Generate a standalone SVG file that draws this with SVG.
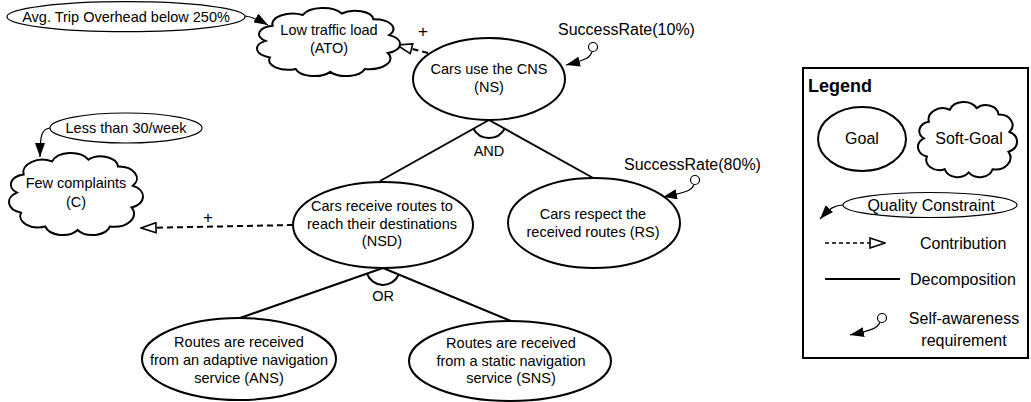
<svg xmlns="http://www.w3.org/2000/svg" xmlns:xlink="http://www.w3.org/1999/xlink" width="1031" height="402" viewBox="0 0 1031 402">
  <style>
    text { font-family: "Liberation Sans", Arial, sans-serif; fill: #000; }
    .t { font-size: 14.5px; text-anchor: middle; }
    .sr { font-size: 16px; }
    .lg { font-size: 16px; }
    .goal { fill: #fff; stroke: #000; stroke-width: 2; }
    .qc { fill: #fff; stroke: #000; stroke-width: 1.2; }
    .dec { fill: none; stroke: #000; stroke-width: 2; }
    .contrib { fill: none; stroke: #000; stroke-width: 2; stroke-dasharray: 6 4; marker-end: url(#ha); }
    .qlink { fill: none; stroke: #000; stroke-width: 1.2; marker-end: url(#fa); }
    .sa { fill: #fff; stroke: #000; stroke-width: 1.2; }
  </style>
  <defs>
    <marker id="fa" viewBox="0 0 14 10" refX="14" refY="5" markerWidth="14" markerHeight="10" markerUnits="userSpaceOnUse" orient="auto">
      <path d="M0,0 L14,5 L0,10 Z" fill="#000" stroke="none"/>
    </marker>
    <marker id="ha" viewBox="0 0 17 12" refX="16" refY="6" markerWidth="17" markerHeight="12" markerUnits="userSpaceOnUse" orient="auto">
      <path d="M1,1 L16,6 L1,11 Z" fill="#fff" stroke="#000" stroke-width="1.6" stroke-dasharray="none"/>
    </marker>
    <path id="cloud" d="M12,27 A14.2,14.2 0 0 1 33,12 A14.9,14.9 0 0 1 60,10 A12.9,12.9 0 0 1 82,18 A13.5,13.5 0 0 1 93,40 A13.75,13.75 0 0 1 92,65 A15,15 0 0 1 76,87 A13.4,13.4 0 0 1 52,91 A13.4,13.4 0 0 1 28,87 A13.3,13.3 0 0 1 10,71 A12.8,12.8 0 0 1 7,48 A11.9,11.9 0 0 1 12,27 Z" fill="#fff" stroke="#000" stroke-width="2" vector-effect="non-scaling-stroke"/>
  </defs>

  <!-- connectors -->
  <g id="connectors">
    <!-- decompositions -->
    <path class="dec" d="M489,120 L380,181 M489,120 L595,179"/>
    <path class="dec" d="M473.3,128.8 A18,18 0 0 0 504.7,128.8"/>
    <path class="dec" d="M383,268 L240,318 M383,268 L511,321"/>
    <path class="dec" d="M367,273.6 A17,17 0 0 0 398.7,274.5"/>
    <!-- contributions -->
    <path class="contrib" d="M428,53 L397,45"/>
    <path class="contrib" d="M293,225 L141,228"/>
    <!-- quality constraint links -->
    <path class="qlink" d="M245,16 Q254,17 268,25"/>
    <path class="qlink" d="M50,128 C42,129 40,134 40,157"/>
    <!-- self-awareness links -->
    <path class="qlink" d="M592,51.5 C590,58 586,60 566,65"/>
    <path class="qlink" d="M694,184.5 C692,190 688,192 663,197"/>
    <text x="423" y="37" style="font-size:17px" text-anchor="middle">+</text>
    <text x="208" y="223" style="font-size:17px" text-anchor="middle">+</text>
    <text class="t" x="489" y="156">AND</text>
    <text class="t" x="383" y="301">OR</text>
  </g>

  <g id="qc-ato">
    <ellipse class="qc" cx="126" cy="16.7" rx="119" ry="15"/>
    <text class="t" x="126" y="22">Avg. Trip Overhead below 250%</text>
  </g>

  <g id="ato">
    <use xlink:href="#cloud" transform="translate(255.4,6.3) scale(1.439,0.72)"/>
    <text class="t" x="329" y="35">Low traffic load</text>
    <text class="t" x="329" y="53">(ATO)</text>
  </g>

  <g id="ns">
    <ellipse class="goal" cx="489" cy="79" rx="76" ry="41"/>
    <text class="t" x="489" y="74">Cars use the CNS</text>
    <text class="t" x="489" y="92">(NS)</text>
  </g>

  <g id="sr-ns">
    <text class="sr" x="558" y="35">SuccessRate(10%)</text>
    <circle class="sa" cx="593" cy="47" r="4.5"/>
  </g>

  <g id="qc-c">
    <ellipse class="qc" cx="126" cy="128" rx="76" ry="15"/>
    <text class="t" x="126" y="133">Less than 30/week</text>
  </g>

  <g id="c">
    <use xlink:href="#cloud" transform="translate(7.5,151) scale(1.348,0.868)"/>
    <text class="t" x="76" y="188">Few complaints</text>
    <text class="t" x="76" y="206.5">(C)</text>
  </g>

  <g id="nsd">
    <ellipse class="goal" cx="383" cy="225" rx="90" ry="43"/>
    <text class="t" x="382" y="210.5">Cars receive routes to</text>
    <text class="t" x="382" y="228.5">reach their destinations</text>
    <text class="t" x="382" y="246">(NSD)</text>
  </g>

  <g id="rs">
    <ellipse class="goal" cx="594" cy="223" rx="86" ry="45"/>
    <text class="t" x="593" y="219">Cars respect the</text>
    <text class="t" x="593" y="236.5">received routes (RS)</text>
  </g>

  <g id="sr-rs">
    <text class="sr" x="624" y="170">SuccessRate(80%)</text>
    <circle class="sa" cx="695" cy="180" r="4.5"/>
  </g>

  <g id="ans">
    <ellipse class="goal" cx="239" cy="359" rx="97" ry="41"/>
    <text class="t" x="239" y="347">Routes are received</text>
    <text class="t" x="239" y="365">from an adaptive navigation</text>
    <text class="t" x="239" y="383">service (ANS)</text>
  </g>

  <g id="sns">
    <ellipse class="goal" cx="510" cy="361" rx="101" ry="40"/>
    <text class="t" x="511" y="348">Routes are received</text>
    <text class="t" x="511" y="365.5">from a static navigation</text>
    <text class="t" x="511" y="383">service (SNS)</text>
  </g>

  <g id="legend">
    <rect x="803" y="68" width="225" height="290" fill="#fff" stroke="#000" stroke-width="2"/>
    <text x="808" y="92" style="font-size:18px;font-weight:bold">Legend</text>
    <ellipse class="goal" cx="862" cy="139" rx="44" ry="32"/>
    <text class="lg" x="862" y="144" text-anchor="middle">Goal</text>
    <use xlink:href="#cloud" transform="translate(916.9,100.2) scale(0.996,0.794)"/>
    <text class="lg" x="969" y="143.5" text-anchor="middle">Soft-Goal</text>
    <ellipse class="qc" cx="930" cy="205" rx="87" ry="12.5"/>
    <text class="lg" x="931" y="210.7" text-anchor="middle">Quality Constraint</text>
    <path class="qlink" d="M843,205 C835,205 830,208 820,219"/>
    <path d="M825,243 L885,243" fill="none" stroke="#000" stroke-width="1.5" stroke-dasharray="4 3" marker-end="url(#ha)"/>
    <text class="lg" x="920" y="248.5">Contribution</text>
    <path d="M825,279 L900,279" fill="none" stroke="#000" stroke-width="2"/>
    <text class="lg" x="910" y="284.5">Decomposition</text>
    <path class="qlink" d="M880,322 C878,328 873,330 850,335"/>
    <circle class="sa" cx="882" cy="318" r="4.5"/>
    <text class="lg" x="964" y="323.5" text-anchor="middle">Self-awareness</text>
    <text class="lg" x="964" y="345.5" text-anchor="middle">requirement</text>
  </g>
</svg>
